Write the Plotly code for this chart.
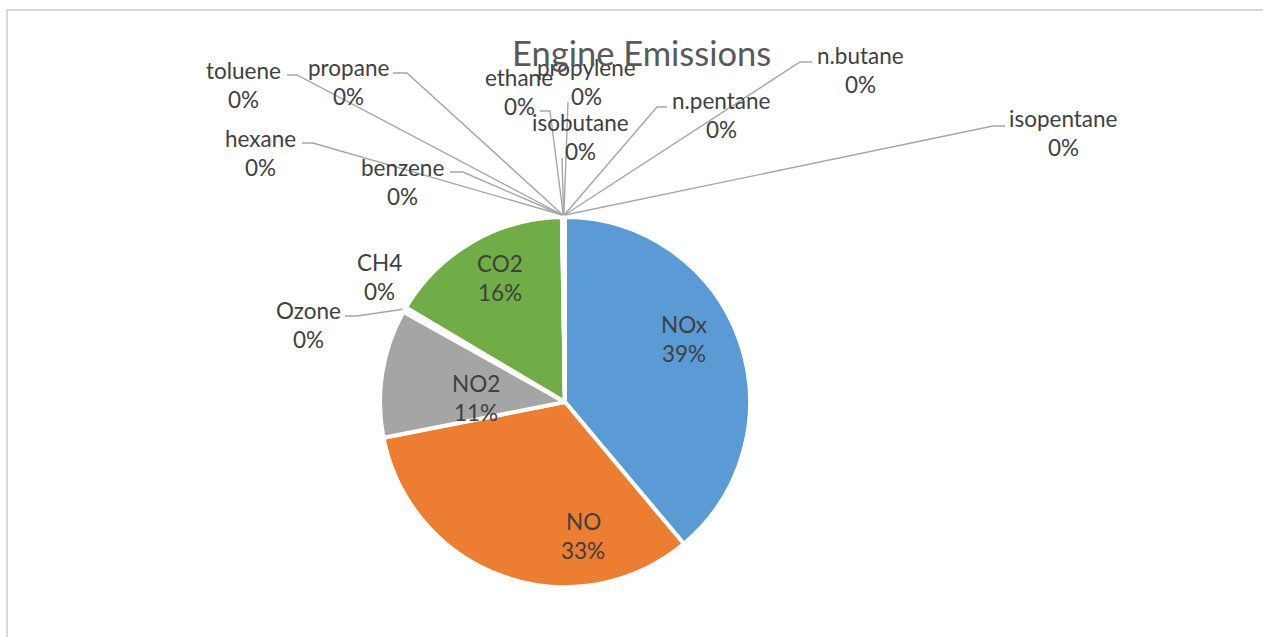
import plotly.graph_objects as go
import math

# ---------------- data ----------------
labels = ["NOx", "NO", "NO2", "Ozone", "CH4", "CO2",
          "benzene", "hexane", "toluene", "propane", "ethane",
          "isobutane", "propylene", "n.pentane", "n.butane", "isopentane"]
values = [38.9, 33.0, 11.2, 0.33, 0.10, 16.2,
          0.027, 0.027, 0.027, 0.027, 0.027,
          0.027, 0.027, 0.027, 0.027, 0.027]
colors = ["#5B9BD5", "#ED7D31", "#A5A5A5", "#FFC000", "#4472C4", "#70AD47",
          "#264478", "#9E480E", "#636363", "#997300", "#255E91",
          "#43682B", "#698ED0", "#F1975A", "#B7B7B7", "#FFCD33"]
title_text = "Engine Emissions"

# ---------------- layout constants (pixels) ----------------
W, H = 1263, 637
CX, CY, R = 565, 402, 185
inside = {"NOx", "NO", "NO2", "CO2"}

# label placement: (text centre x, name y, elbow-start x, elbow-end x, elbow y)
label_pos = {
    "NOx":        (684, 324, None, None, None),
    "NO":         (583, 521, None, None, None),
    "NO2":        (476, 383, None, None, None),
    "CO2":        (500, 263, None, None, None),
    "Ozone":      (308, 310, 345, 357, 316),
    "CH4":        (379, 262, None, None, None),
    "benzene":    (402, 167, 450, 463, 172),
    "hexane":     (260, 138, 302, 313, 143),
    "toluene":    (243, 70, 287, 297, 75),
    "propane":    (348, 67, 393, 407, 73),
    "ethane":     (519, 77, 540, 550, 111),
    "isobutane":  (580, 122, None, 562, 158),
    "propylene":  (586, 67, None, 568, 102),
    "n.pentane":  (721, 100, 667, 657, 107),
    "n.butane":   (860, 55, 812, 800, 62),
    "isopentane": (1063, 118, 1005, 993, 126),
}

TXT = "#404040"
FONT = "Lato"
FS = 22.5
LINE_GAP = 29.5

total = sum(values)

fig = go.Figure()
fig.add_trace(go.Pie(
    labels=labels, values=values, sort=False, direction="clockwise", rotation=0,
    marker=dict(colors=colors, line=dict(color="white", width=4)),
    textinfo="none",
    domain=dict(x=[(CX - R) / W, (CX + R) / W], y=[1 - (CY + R) / H, 1 - (CY - R) / H]),
    showlegend=False, hoverinfo="label+percent",
))

cum = 0.0
shapes = []
annotations = []
for lab, v in zip(labels, values):
    mid = (cum + v / 2) / total * 2 * math.pi
    cum += v
    tx, ty, x1, x2, ey = label_pos[lab]
    pct = f"{round(v / total * 100):.0f}%"
    for txt, yy in ((lab, ty), (pct, ty + LINE_GAP)):
        annotations.append(dict(x=tx, y=yy, xref="x", yref="y", text=txt, showarrow=False,
                                xanchor="center", yanchor="middle",
                                font=dict(family=FONT, size=FS, color=TXT)))
    if x2 is None:
        continue
    ax = CX + (R + 2) * math.sin(mid)
    ay = CY - (R + 2) * math.cos(mid)
    if x1 is not None:
        path = f"M {x1},{ey} L {x2},{ey} L {ax:.1f},{ay:.1f}"
    else:
        path = f"M {x2},{ey} L {ax:.1f},{ay:.1f}"
    shapes.append(dict(type="path", path=path, xref="x", yref="y",
                       line=dict(color="#A6A6A6", width=1.4), layer="above"))

# chart border
shapes.append(dict(type="rect", xref="x", yref="y", x0=7, y0=10, x1=W + 10, y1=H + 10,
                   line=dict(color="#D9D9D9", width=2), layer="below"))

annotations.append(dict(x=641, y=52, xref="x", yref="y", text=title_text, showarrow=False,
                        xanchor="center", yanchor="middle",
                        font=dict(family=FONT, size=34.5, color="#595959")))

fig.update_layout(
    width=W, height=H, margin=dict(l=0, r=0, t=0, b=0),
    paper_bgcolor="white", plot_bgcolor="rgba(0,0,0,0)",
    xaxis=dict(range=[0, W], visible=False, fixedrange=True, domain=[0, 1]),
    yaxis=dict(range=[H, 0], visible=False, fixedrange=True, domain=[0, 1]),
    shapes=shapes, annotations=annotations,
)

fig.write_html("out.html")
